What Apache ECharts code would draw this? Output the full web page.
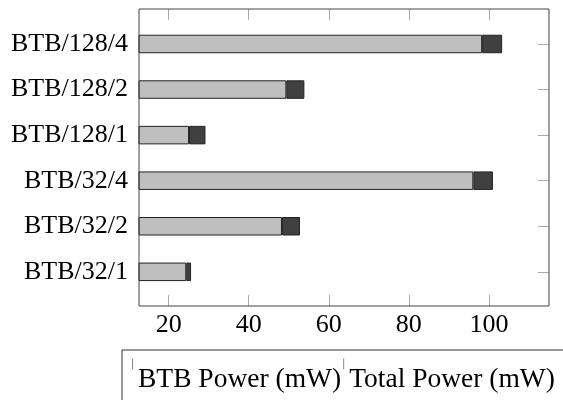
<!DOCTYPE html>
<html>
<head>
<meta charset="utf-8">
<style>
  html, body { margin: 0; padding: 0; background: #fff; }
  #chart { width: 563px; height: 400px; }
</style>
<script src="https://cdn.jsdelivr.net/npm/echarts@6/dist/echarts.min.js"></script>
</head>
<body>
<div id="chart"></div>
<script>
// Configurations, listed bottom to top
const categories = ['BTB/32/1', 'BTB/32/2', 'BTB/32/4', 'BTB/128/1', 'BTB/128/2', 'BTB/128/4'];
// Power drawn by the BTB alone (mW)
const btbPower = [24.4, 48.3, 96.1, 25.1, 49.4, 98.3];
// Total power of each configuration (mW)
const totalPower = [25.6, 52.8, 101.0, 29.2, 53.9, 103.3];
const xTicks = [20, 40, 60, 80, 100];
const xMin = 12.6;
const xMax = 115;

// the dark segment spans from the BTB power up to the total
const remainder = totalPower.map((t, i) => +(t - btbPower[i]).toFixed(2));

const FONT = '"Liberation Serif", "Times New Roman", serif';
const FS = 26;
const LEGEND_FS = 27.5;

const chart = echarts.init(document.getElementById('chart'), null, { renderer: 'canvas' });

chart.setOption({
  animation: false,
  backgroundColor: '#fff',
  textStyle: { fontFamily: FONT },
  grid: [
    // bars
    { left: 139, width: 410, top: 21.2, height: 273.4, show: false },
    // frame with the value ticks
    { left: 139, width: 410, top: 9, height: 297, show: true, borderColor: '#444', borderWidth: 1, backgroundColor: 'transparent', z: 5 }
  ],
  xAxis: [
    { gridIndex: 0, type: 'value', min: xMin, max: xMax, show: false },
    {
      gridIndex: 1, type: 'value', min: xMin, max: xMax, position: 'bottom',
      axisLine: { show: false },
      splitLine: { show: false },
      axisTick: { show: true, inside: true, length: 11, lineStyle: { color: '#aaa', width: 1 }, customValues: xTicks },
      axisLabel: { show: true, customValues: xTicks, color: '#000', fontFamily: FONT, fontSize: FS, margin: 6, lineHeight: FS }
    },
    {
      gridIndex: 1, type: 'value', min: xMin, max: xMax, position: 'top',
      axisLine: { show: false },
      splitLine: { show: false },
      axisTick: { show: true, inside: true, length: 11, lineStyle: { color: '#aaa', width: 1 }, customValues: xTicks },
      axisLabel: { show: false }
    }
  ],
  yAxis: [
    {
      gridIndex: 0, type: 'category', data: categories, position: 'left',
      axisLine: { show: false }, axisTick: { show: false },
      axisLabel: { color: '#000', fontFamily: FONT, fontSize: FS, margin: 11 }
    },
    {
      gridIndex: 0, type: 'category', data: categories, position: 'right',
      axisLine: { show: false },
      axisTick: { show: true, inside: true, alignWithLabel: true, length: 11, lineStyle: { color: '#aaa', width: 1 } },
      axisLabel: { show: false }
    },
    { gridIndex: 1, type: 'value', show: false }
  ],
  legend: {
    left: 122, top: 350,
    width: 520,
    orient: 'horizontal',
    padding: [0, 40, 30, 4],
    itemGap: -4,
    itemWidth: 0,
    itemHeight: 0,
    icon: 'rect',
    borderColor: '#333',
    borderWidth: 1,
    formatter: name => '{t|}{n|' + name + '}',
    textStyle: {
      color: '#000', fontFamily: FONT, fontSize: LEGEND_FS,
      rich: {
        t: { width: 1, height: 11, backgroundColor: '#888', verticalAlign: 'top' },
        n: { color: '#000', fontFamily: FONT, fontSize: LEGEND_FS, lineHeight: 42, padding: [0, 0, 0, 5] }
      }
    },
    data: ['BTB Power (mW)', 'Total Power (mW)']
  },
  series: [
    {
      name: 'BTB Power (mW)', type: 'bar', stack: 'power',
      xAxisIndex: 0, yAxisIndex: 0,
      barWidth: 18.5,
      itemStyle: { color: '#bfbfbf', borderColor: '#222', borderWidth: 1 },
      data: btbPower
    },
    {
      name: 'Total Power (mW)', type: 'bar', stack: 'power',
      xAxisIndex: 0, yAxisIndex: 0,
      barWidth: 18.5,
      itemStyle: { color: '#404040', borderColor: '#222', borderWidth: 1 },
      data: remainder
    }
  ]
});
</script>
</body>
</html>
